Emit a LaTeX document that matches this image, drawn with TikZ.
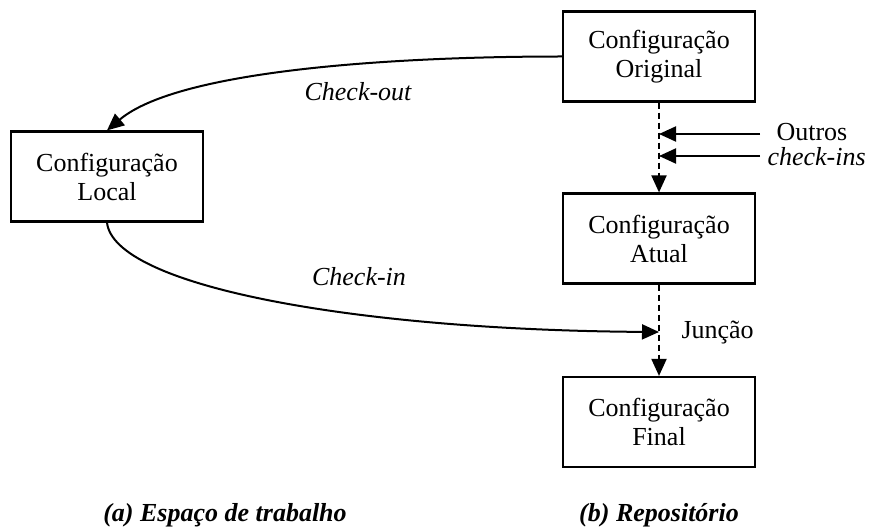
\documentclass[tikz,border=0pt]{standalone}
\usepackage{fontspec}
\setmainfont{Liberation Serif}
\usetikzlibrary{arrows.meta}
\begin{document}
\begin{tikzpicture}[x=1pt,y=-1pt,
  every node/.style={font=\fontsize{26}{29}\selectfont},
  cfgbox/.style={draw,line width=2.2pt,minimum width=192pt,minimum height=90pt,align=center,inner sep=0pt},
  flow/.style={line width=2pt,-{Triangle[length=17pt,width=15pt]}},
  dflow/.style={flow,dash pattern=on 6pt off 4pt}]
\useasboundingbox (0,0) rectangle (877,529);

% configuration boxes
\node[cfgbox] (orig)  at (659,56.5)  {Configuração\\Original};
\node[cfgbox] (local) at (107,176.5) {Configuração\\Local};
\node[cfgbox] (atual) at (659,238.5) {Configuração\\Atual};
\node[cfgbox] (final) at (659,422)   {Configuração\\Final};

% repository evolution
\draw[dflow] (orig.south) -- (atual.north);
\draw[dflow] (atual.south) -- (final.north);

% other check-ins entering the repository line
\coordinate (in1) at (760,134);
\coordinate (in2) at (760,156);
\draw[flow] (in1) -- (orig.south |- in1);
\draw[flow] (in2) -- (orig.south |- in2);
\node[anchor=base west] (outros) at (773,141) {Outros};
\node[anchor=base west] (cins) at (764,166) {\itshape check-ins};

% check-out and check-in
\draw[flow] (orig.west) .. controls +(-163,0) and +(72,-61) .. (local.north);
\node (cout) at (358,92) {\itshape Check-out};

\coordinate (junc) at (659,332);
\draw[flow] (local.south) .. controls +(7,63) and +(-308,-2) .. (junc);
\node (cin) at (359,277) {\itshape Check-in};
\node[anchor=base west] (jlabel) at (678,338) {Junção};

% captions
\node[anchor=base] (capa) at (225,521) {\bfseries\itshape (a) Espaço de trabalho};
\node[anchor=base] (capb) at (659,521) {\bfseries\itshape (b) Repositório};
\end{tikzpicture}
\end{document}
